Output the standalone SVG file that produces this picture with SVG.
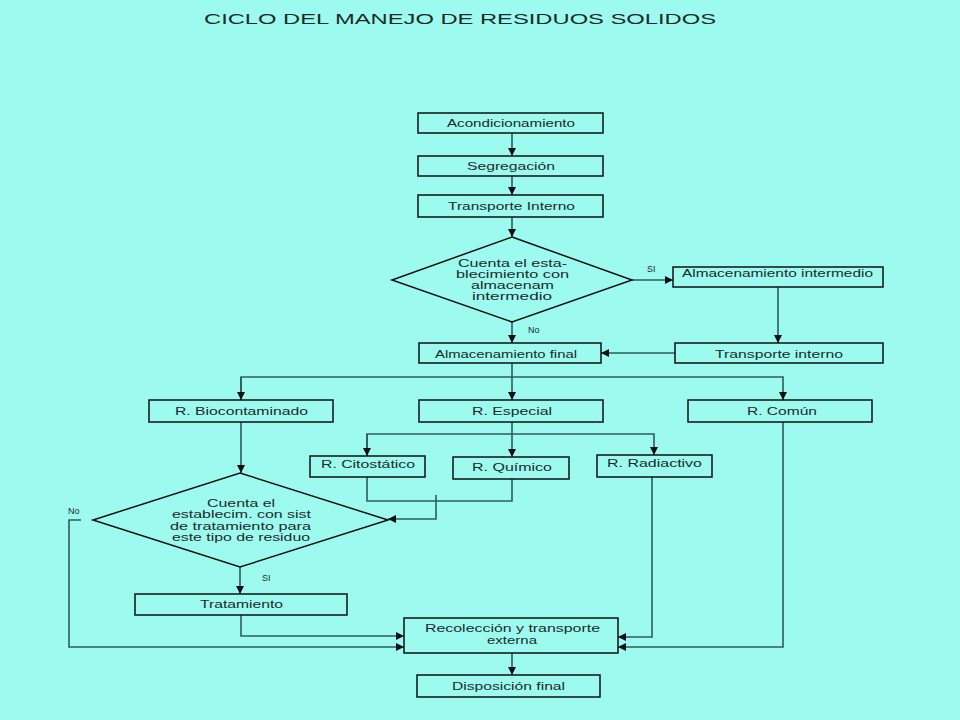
<svg xmlns="http://www.w3.org/2000/svg" width="960" height="720" viewBox="0 0 960 720">
<style>
.bg{fill:#9cfbee}
.box{fill:none;stroke:#111;stroke-width:1.5}
.t{font-family:"Liberation Sans",Arial,sans-serif;font-size:11px;fill:#1e2a2a;lengthAdjust:spacingAndGlyphs}
.title{font-family:"Liberation Sans",Arial,sans-serif;font-size:14px;fill:#1e2a2a}
.c{fill:none;stroke:#2f5c5c;stroke-width:1.6}
.lbl{font-family:"Liberation Sans",Arial,sans-serif;font-size:9px;fill:#1e2a2a}
</style>
<defs>
<marker id="ah" viewBox="0 0 8 8" refX="8" refY="4" markerWidth="8" markerHeight="8" markerUnits="userSpaceOnUse" orient="auto">
<path d="M0,0 L8,4 L0,8 Z" fill="#111"/>
</marker>
</defs>
<rect class="bg" x="0" y="0" width="960" height="720"/>
<text class="title" x="204" y="24" textLength="512" lengthAdjust="spacingAndGlyphs">CICLO DEL MANEJO DE RESIDUOS SOLIDOS</text>

<g id="connectors">
<path class="c" d="M512,133 V156" marker-end="url(#ah)"/>
<path class="c" d="M512,176 V195" marker-end="url(#ah)"/>
<path class="c" d="M512,217 V237" marker-end="url(#ah)"/>
<path class="c" d="M632,280 H673" marker-end="url(#ah)"/>
<path class="c" d="M778,287 V343" marker-end="url(#ah)"/>
<path class="c" d="M675,353 H601" marker-end="url(#ah)"/>
<path class="c" d="M512,322 V343" marker-end="url(#ah)"/>
<path class="c" d="M512,363 V400" marker-end="url(#ah)"/>
<path class="c" d="M241,400 V377 H783 V400" marker-end="url(#ah)"/>
<path class="c" d="M241,377 V400" marker-end="url(#ah)"/>
<path class="c" d="M512,422 V457" marker-end="url(#ah)"/>
<path class="c" d="M367,456 V434 H654 V455" marker-end="url(#ah)"/>
<path class="c" d="M367,434 V456" marker-end="url(#ah)"/>
<path class="c" d="M241,422 V473" marker-end="url(#ah)"/>
<path class="c" d="M367,477 V501 H512 V479"/>
<path class="c" d="M436,495 V519 H388" marker-end="url(#ah)"/>
<path class="c" d="M240,567 V594" marker-end="url(#ah)"/>
<path class="c" d="M241,615 V636 H404" marker-end="url(#ah)"/>
<path class="c" d="M81,520 H69 V647 H404" marker-end="url(#ah)"/>
<path class="c" d="M652,477 V637 H618" marker-end="url(#ah)"/>
<path class="c" d="M783,422 V647 H618" marker-end="url(#ah)"/>
<path class="c" d="M512,653 V675" marker-end="url(#ah)"/>
<text class="lbl" x="647" y="272">SI</text>
<text class="lbl" x="528" y="333">No</text>
<text class="lbl" x="68" y="514">No</text>
<text class="lbl" x="262" y="581">SI</text>
</g>

<g id="acondicionamiento"><rect class="box" x="418" y="113" width="185" height="20"/><text class="t" x="447" y="127" textLength="128" lengthAdjust="spacingAndGlyphs">Acondicionamiento</text></g>
<g id="segregacion"><rect class="box" x="418" y="156" width="185" height="20"/><text class="t" x="467" y="170" textLength="88" lengthAdjust="spacingAndGlyphs">Segregación</text></g>
<g id="transporte-interno-1"><rect class="box" x="418" y="195" width="185" height="22"/><text class="t" x="448" y="210" textLength="127" lengthAdjust="spacingAndGlyphs">Transporte Interno</text></g>
<g id="decision-almacenam"><polygon class="box" points="512,237 632,280 512,322 392,280"/>
<text class="t" x="458" y="267" textLength="109" lengthAdjust="spacingAndGlyphs">Cuenta el esta-</text>
<text class="t" x="456" y="278" textLength="113" lengthAdjust="spacingAndGlyphs">blecimiento con</text>
<text class="t" x="471" y="289" textLength="83" lengthAdjust="spacingAndGlyphs">almacenam</text>
<text class="t" x="472" y="300" textLength="80" lengthAdjust="spacingAndGlyphs">intermedio</text></g>
<g id="almacenamiento-intermedio"><rect class="box" x="673" y="267" width="210" height="20"/><text class="t" x="682" y="277" textLength="191" lengthAdjust="spacingAndGlyphs">Almacenamiento intermedio</text></g>
<g id="transporte-interno-2"><rect class="box" x="675" y="343" width="208" height="20"/><text class="t" x="715" y="358" textLength="128" lengthAdjust="spacingAndGlyphs">Transporte interno</text></g>
<g id="almacenamiento-final"><rect class="box" x="419" y="343" width="182" height="20"/><text class="t" x="435" y="358" textLength="142" lengthAdjust="spacingAndGlyphs">Almacenamiento final</text></g>
<g id="r-biocontaminado"><rect class="box" x="149" y="400" width="184" height="22"/><text class="t" x="175" y="415" textLength="133" lengthAdjust="spacingAndGlyphs">R. Biocontaminado</text></g>
<g id="r-especial"><rect class="box" x="419" y="400" width="184" height="22"/><text class="t" x="472" y="415" textLength="80" lengthAdjust="spacingAndGlyphs">R. Especial</text></g>
<g id="r-comun"><rect class="box" x="688" y="400" width="184" height="22"/><text class="t" x="747" y="415" textLength="70" lengthAdjust="spacingAndGlyphs">R. Común</text></g>
<g id="r-citostatico"><rect class="box" x="310" y="456" width="115" height="21"/><text class="t" x="321" y="468" textLength="94" lengthAdjust="spacingAndGlyphs">R. Citostático</text></g>
<g id="r-quimico"><rect class="box" x="453" y="457" width="116" height="22"/><text class="t" x="472" y="471" textLength="80" lengthAdjust="spacingAndGlyphs">R. Químico</text></g>
<g id="r-radiactivo"><rect class="box" x="597" y="455" width="115" height="22"/><text class="t" x="607" y="467" textLength="95" lengthAdjust="spacingAndGlyphs">R. Radiactivo</text></g>
<g id="decision-tratamiento"><polygon class="box" points="240,473 388,520 240,567 93,520"/>
<text class="t" x="207" y="507" textLength="68" lengthAdjust="spacingAndGlyphs">Cuenta el</text>
<text class="t" x="172" y="518" textLength="139" lengthAdjust="spacingAndGlyphs">establecim. con sist</text>
<text class="t" x="170" y="530" textLength="141" lengthAdjust="spacingAndGlyphs">de tratamiento para</text>
<text class="t" x="172" y="541" textLength="138" lengthAdjust="spacingAndGlyphs">este tipo de residuo</text></g>
<g id="tratamiento"><rect class="box" x="135" y="594" width="212" height="21"/><text class="t" x="200" y="608" textLength="83" lengthAdjust="spacingAndGlyphs">Tratamiento</text></g>
<g id="recoleccion"><rect class="box" x="404" y="618" width="214" height="35"/>
<text class="t" x="425" y="632" textLength="175" lengthAdjust="spacingAndGlyphs">Recolección y transporte</text>
<text class="t" x="487" y="644" textLength="50" lengthAdjust="spacingAndGlyphs">externa</text></g>
<g id="disposicion-final"><rect class="box" x="417" y="675" width="183" height="22"/><text class="t" x="452" y="690" textLength="113" lengthAdjust="spacingAndGlyphs">Disposición final</text></g>
</svg>
